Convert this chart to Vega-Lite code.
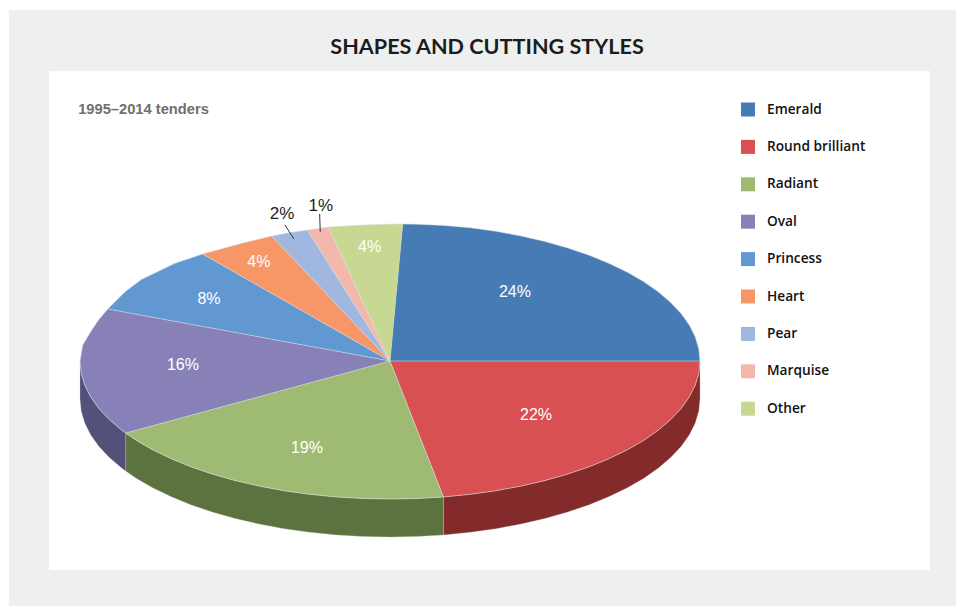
{"$schema":"https://vega.github.io/schema/vega-lite/v6.json","width":956,"height":606,"padding":0,"autosize":{"type":"none"},"background":"#ffffff","config":{"view":{"stroke":null}},
"datasets":{"top":[
{"shape":"Emerald","step":0,"x":0,"y":0},{"shape":"Emerald","step":1,"x":0.041,"y":0.9928},{"shape":"Emerald","step":2,"x":0.0872,"y":0.9915},{"shape":"Emerald","step":3,"x":0.1736,"y":0.9825},{"shape":"Emerald","step":4,"x":0.2588,"y":0.9659},{"shape":"Emerald","step":5,"x":0.342,"y":0.9397},{"shape":"Emerald","step":6,"x":0.4226,"y":0.9063},{"shape":"Emerald","step":7,"x":0.5,"y":0.866},{"shape":"Emerald","step":8,"x":0.5736,"y":0.8192},{"shape":"Emerald","step":9,"x":0.6428,"y":0.766},{"shape":"Emerald","step":10,"x":0.7071,"y":0.7071},{"shape":"Emerald","step":11,"x":0.766,"y":0.6428},{"shape":"Emerald","step":12,"x":0.8192,"y":0.5736},{"shape":"Emerald","step":13,"x":0.866,"y":0.5},{"shape":"Emerald","step":14,"x":0.9063,"y":0.4226},{"shape":"Emerald","step":15,"x":0.9397,"y":0.342},{"shape":"Emerald","step":16,"x":0.9659,"y":0.2588},{"shape":"Emerald","step":17,"x":0.9848,"y":0.1736},{"shape":"Emerald","step":18,"x":0.9962,"y":0.0872},{"shape":"Emerald","step":19,"x":1,"y":0},
{"shape":"Round brilliant","step":0,"x":0,"y":0},{"shape":"Round brilliant","step":1,"x":1,"y":0},{"shape":"Round brilliant","step":2,"x":0.9962,"y":-0.0872},{"shape":"Round brilliant","step":3,"x":0.9848,"y":-0.1736},{"shape":"Round brilliant","step":4,"x":0.9659,"y":-0.2588},{"shape":"Round brilliant","step":5,"x":0.9397,"y":-0.342},{"shape":"Round brilliant","step":6,"x":0.9063,"y":-0.4226},{"shape":"Round brilliant","step":7,"x":0.866,"y":-0.5},{"shape":"Round brilliant","step":8,"x":0.8192,"y":-0.5736},{"shape":"Round brilliant","step":9,"x":0.766,"y":-0.6428},{"shape":"Round brilliant","step":10,"x":0.7071,"y":-0.7071},{"shape":"Round brilliant","step":11,"x":0.6428,"y":-0.766},{"shape":"Round brilliant","step":12,"x":0.5736,"y":-0.8192},{"shape":"Round brilliant","step":13,"x":0.5,"y":-0.866},{"shape":"Round brilliant","step":14,"x":0.4226,"y":-0.9063},{"shape":"Round brilliant","step":15,"x":0.342,"y":-0.9397},{"shape":"Round brilliant","step":16,"x":0.2588,"y":-0.9659},{"shape":"Round brilliant","step":17,"x":0.1726,"y":-0.985},
{"shape":"Radiant","step":0,"x":0,"y":0},{"shape":"Radiant","step":1,"x":0.1726,"y":-0.985},{"shape":"Radiant","step":2,"x":0.0872,"y":-0.9962},{"shape":"Radiant","step":3,"x":0,"y":-1},{"shape":"Radiant","step":4,"x":-0.0872,"y":-0.9962},{"shape":"Radiant","step":5,"x":-0.1736,"y":-0.9848},{"shape":"Radiant","step":6,"x":-0.2588,"y":-0.9659},{"shape":"Radiant","step":7,"x":-0.342,"y":-0.9397},{"shape":"Radiant","step":8,"x":-0.4226,"y":-0.9063},{"shape":"Radiant","step":9,"x":-0.5,"y":-0.866},{"shape":"Radiant","step":10,"x":-0.5736,"y":-0.8192},{"shape":"Radiant","step":11,"x":-0.6428,"y":-0.766},{"shape":"Radiant","step":12,"x":-0.7071,"y":-0.7071},{"shape":"Radiant","step":13,"x":-0.766,"y":-0.6428},{"shape":"Radiant","step":14,"x":-0.8192,"y":-0.5736},{"shape":"Radiant","step":15,"x":-0.8526,"y":-0.5225},
{"shape":"Oval","step":0,"x":0,"y":0},{"shape":"Oval","step":1,"x":-0.8526,"y":-0.5225},{"shape":"Oval","step":2,"x":-0.866,"y":-0.5},{"shape":"Oval","step":3,"x":-0.9063,"y":-0.4226},{"shape":"Oval","step":4,"x":-0.9397,"y":-0.342},{"shape":"Oval","step":5,"x":-0.9659,"y":-0.2588},{"shape":"Oval","step":6,"x":-0.9848,"y":-0.1736},{"shape":"Oval","step":7,"x":-0.9962,"y":-0.0872},{"shape":"Oval","step":8,"x":-1,"y":0},{"shape":"Oval","step":9,"x":-0.9913,"y":0.1159},{"shape":"Oval","step":10,"x":-0.9623,"y":0.2246},{"shape":"Oval","step":11,"x":-0.9403,"y":0.2971},{"shape":"Oval","step":12,"x":-0.9106,"y":0.3768},
{"shape":"Princess","step":0,"x":0,"y":0},{"shape":"Princess","step":1,"x":-0.9106,"y":0.3768},{"shape":"Princess","step":2,"x":-0.8548,"y":0.5022},{"shape":"Princess","step":3,"x":-0.801,"y":0.592},{"shape":"Princess","step":4,"x":-0.6935,"y":0.708},{"shape":"Princess","step":5,"x":-0.6048,"y":0.7754},
{"shape":"Heart","step":0,"x":0,"y":0},{"shape":"Heart","step":1,"x":-0.6048,"y":0.7754},{"shape":"Heart","step":2,"x":-0.4784,"y":0.8529},{"shape":"Heart","step":3,"x":-0.3816,"y":0.9058},
{"shape":"Pear","step":0,"x":0,"y":0},{"shape":"Pear","step":1,"x":-0.3816,"y":0.9058},{"shape":"Pear","step":2,"x":-0.3226,"y":0.9312},{"shape":"Pear","step":3,"x":-0.2668,"y":0.9493},
{"shape":"Marquise","step":0,"x":0,"y":0},{"shape":"Marquise","step":1,"x":-0.2668,"y":0.9493},{"shape":"Marquise","step":2,"x":-0.199,"y":0.971},
{"shape":"Other","step":0,"x":0,"y":0},{"shape":"Other","step":1,"x":-0.199,"y":0.971},{"shape":"Other","step":2,"x":-0.1736,"y":0.975},{"shape":"Other","step":3,"x":-0.0872,"y":0.986},{"shape":"Other","step":4,"x":0,"y":0.992},{"shape":"Other","step":5,"x":0.041,"y":0.9928}
],"side":[
{"shape":"Round brilliant","x":1,"y":0,"y2":-0.2754},{"shape":"Round brilliant","x":0.9962,"y":-0.0872,"y2":-0.3626},{"shape":"Round brilliant","x":0.9848,"y":-0.1736,"y2":-0.449},{"shape":"Round brilliant","x":0.9659,"y":-0.2588,"y2":-0.5342},{"shape":"Round brilliant","x":0.9397,"y":-0.342,"y2":-0.6174},{"shape":"Round brilliant","x":0.9063,"y":-0.4226,"y2":-0.698},{"shape":"Round brilliant","x":0.866,"y":-0.5,"y2":-0.7754},{"shape":"Round brilliant","x":0.8192,"y":-0.5736,"y2":-0.849},{"shape":"Round brilliant","x":0.766,"y":-0.6428,"y2":-0.9182},{"shape":"Round brilliant","x":0.7071,"y":-0.7071,"y2":-0.9825},{"shape":"Round brilliant","x":0.6428,"y":-0.766,"y2":-1.0414},{"shape":"Round brilliant","x":0.5736,"y":-0.8192,"y2":-1.0946},{"shape":"Round brilliant","x":0.5,"y":-0.866,"y2":-1.1414},{"shape":"Round brilliant","x":0.4226,"y":-0.9063,"y2":-1.1817},{"shape":"Round brilliant","x":0.342,"y":-0.9397,"y2":-1.2151},{"shape":"Round brilliant","x":0.2588,"y":-0.9659,"y2":-1.2413},{"shape":"Round brilliant","x":0.1726,"y":-0.985,"y2":-1.2604},
{"shape":"Radiant","x":0.1726,"y":-0.985,"y2":-1.2604},{"shape":"Radiant","x":0.0872,"y":-0.9962,"y2":-1.2716},{"shape":"Radiant","x":0,"y":-1,"y2":-1.2754},{"shape":"Radiant","x":-0.0872,"y":-0.9962,"y2":-1.2716},{"shape":"Radiant","x":-0.1736,"y":-0.9848,"y2":-1.2602},{"shape":"Radiant","x":-0.2588,"y":-0.9659,"y2":-1.2413},{"shape":"Radiant","x":-0.342,"y":-0.9397,"y2":-1.2151},{"shape":"Radiant","x":-0.4226,"y":-0.9063,"y2":-1.1817},{"shape":"Radiant","x":-0.5,"y":-0.866,"y2":-1.1414},{"shape":"Radiant","x":-0.5736,"y":-0.8192,"y2":-1.0946},{"shape":"Radiant","x":-0.6428,"y":-0.766,"y2":-1.0414},{"shape":"Radiant","x":-0.7071,"y":-0.7071,"y2":-0.9825},{"shape":"Radiant","x":-0.766,"y":-0.6428,"y2":-0.9182},{"shape":"Radiant","x":-0.8192,"y":-0.5736,"y2":-0.849},{"shape":"Radiant","x":-0.8526,"y":-0.5225,"y2":-0.7979},
{"shape":"Oval","x":-0.8526,"y":-0.5225,"y2":-0.7979},{"shape":"Oval","x":-0.866,"y":-0.5,"y2":-0.7754},{"shape":"Oval","x":-0.9063,"y":-0.4226,"y2":-0.698},{"shape":"Oval","x":-0.9397,"y":-0.342,"y2":-0.6174},{"shape":"Oval","x":-0.9659,"y":-0.2588,"y2":-0.5342},{"shape":"Oval","x":-0.9848,"y":-0.1736,"y2":-0.449},{"shape":"Oval","x":-0.9962,"y":-0.0872,"y2":-0.3626},{"shape":"Oval","x":-1,"y":0,"y2":-0.2754}
],"labels":[
{"label":"24%","x":0.403,"y":0.507},{"label":"22%","x":0.471,"y":-0.384},{"label":"19%","x":-0.268,"y":-0.623},{"label":"16%","x":-0.668,"y":-0.022},{"label":"8%","x":-0.584,"y":0.457},{"label":"4%","x":-0.423,"y":0.726},{"label":"4%","x":-0.066,"y":0.83}
],"outer":[{"label":"2%","x":-0.348,"y":1.069},{"label":"1%","x":-0.223,"y":1.13}],
"leaders":[{"x":-0.339,"x2":-0.31,"y":0.986,"y2":0.884},{"x":-0.227,"x2":-0.225,"y":1.065,"y2":0.937}]},
"encoding":{"x":{"field":"x","type":"quantitative","scale":{"domain":[-1.2581,1.8258],"nice":false,"zero":false},"axis":null},"y":{"field":"y","type":"quantitative","scale":{"domain":[-1.7754,2.6159],"nice":false,"zero":false},"axis":null}},
"layer":[
{"data":{"values":[{"x":-1.229,"x2":1.8258,"y":2.543,"y2":-1.7754}]},"mark":{"type":"rect","fill":"#eef0ef"},"encoding":{"x2":{"field":"x2"},"y2":{"field":"y2"}}},
{"data":{"values":[{"x":-1.1,"x2":1.742,"y":2.101,"y2":-1.514}]},"mark":{"type":"rect","fill":"#ffffff"},"encoding":{"x2":{"field":"x2"},"y2":{"field":"y2"}}},
{"data":{"name":"side"},"mark":{"type":"area","stroke":"#c9cdc4","strokeWidth":0.3},"encoding":{"y2":{"field":"y2"},"fill":{"field":"shape","type":"nominal","legend":null,"scale":{"domain":["Round brilliant","Radiant","Oval"],"range":["#832a2a","#5c7340","#53507a"]}}}},
{"data":{"name":"top"},"mark":{"type":"line","stroke":"#dde2e6","strokeWidth":0.5},"encoding":{"order":{"field":"step","type":"quantitative"},"fill":{"field":"shape","type":"nominal","scale":{"domain":["Emerald","Round brilliant","Radiant","Oval","Princess","Heart","Pear","Marquise","Other"],"range":["#477bb5","#d85052","#9fbb73","#8781b8","#6298d2","#f79767","#a0b8df","#f3b8ac","#c6d892"]},"legend":{"orient":"none","legendX":741,"legendY":102.5,"title":null,"symbolType":"square","symbolSize":196,"symbolStrokeWidth":0,"symbolOpacity":1,"labelFont":"Open Sans","labelFontSize":13.7,"labelFontWeight":600,"labelColor":"#111111","labelOffset":12,"rowPadding":23.4,"labelLimit":200}}}},
{"data":{"name":"leaders"},"mark":{"type":"rule","color":"#333333","strokeWidth":1},"encoding":{"x2":{"field":"x2"},"y2":{"field":"y2"}}},
{"data":{"name":"labels"},"mark":{"type":"text","color":"#ffffff","font":"Liberation Sans","fontSize":16,"dy":1},"encoding":{"text":{"field":"label"}}},
{"data":{"name":"outer"},"mark":{"type":"text","color":"#222222","font":"Liberation Sans","fontSize":17,"dy":1},"encoding":{"text":{"field":"label"}}},
{"data":{"values":[{"label":"1995–2014 tenders","x":-1.006,"y":1.826}]},"mark":{"type":"text","align":"left","color":"#6f6f6f","font":"Liberation Sans","fontWeight":"bold","fontSize":14.7,"dy":1},"encoding":{"text":{"field":"label"}}},
{"data":{"values":[{"label":"SHAPES AND CUTTING STYLES","x":0.313,"y":2.275}]},"mark":{"type":"text","color":"#1c1c1c","font":"Lato","fontWeight":"bold","fontSize":21.6,"dy":1},"encoding":{"text":{"field":"label"}}}
],"resolve":{"scale":{"fill":"independent"}}}
